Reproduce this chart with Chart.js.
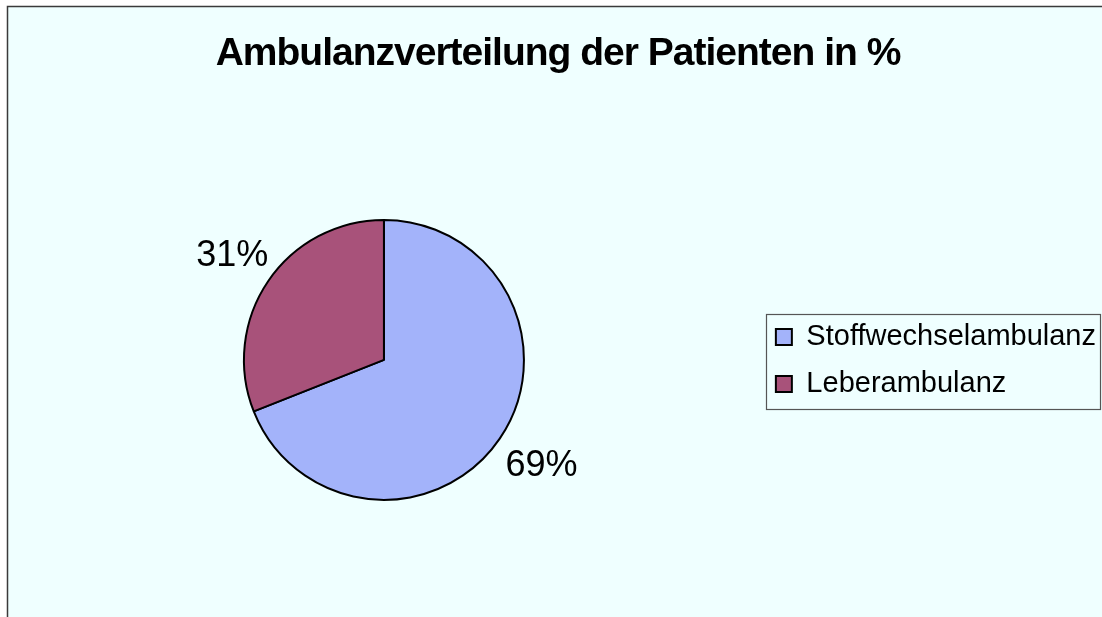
<!DOCTYPE html>
<html>
<head>
<meta charset="utf-8">
<script src="https://cdn.jsdelivr.net/npm/chart.js@4"></script>
<style>
html,body{margin:0;padding:0;background:#fff;}
#wrap{position:absolute;left:0;top:0;width:1102px;height:617px;}
</style>
</head>
<body>
<div id="wrap"><canvas id="c" width="1102" height="617"></canvas></div>
<script>
const chartTitle = "Ambulanzverteilung der Patienten in %";
const categories = ["Stoffwechselambulanz", "Leberambulanz"];
const values = [69, 31];
const sliceColors = ["#A3B3FA", "#A8527A"];

const FONT = '"Liberation Sans", Arial, sans-serif';

const bgPlugin = {
  id: 'bgPlugin',
  beforeDraw(chart) {
    const ctx = chart.ctx;
    ctx.save();
    ctx.fillStyle = '#ffffff';
    ctx.fillRect(0, 0, chart.width, chart.height);
    ctx.fillStyle = '#EFFFFF';
    ctx.fillRect(7, 6, chart.width - 7, chart.height - 6);
    ctx.strokeStyle = '#3a3a3a';
    ctx.lineWidth = 1.5;
    ctx.beginPath();
    ctx.moveTo(7.5, chart.height);
    ctx.lineTo(7.5, 6.5);
    ctx.lineTo(chart.width, 6.5);
    ctx.stroke();
    ctx.restore();
    // tighten title letter spacing like the original
    const t = chart.titleBlock;
    if (t && !t._wrapped) {
      const orig = t.draw.bind(t);
      t.draw = function (area) {
        chart.ctx.save();
        chart.ctx.letterSpacing = '-1px';
        orig(area);
        chart.ctx.restore();
      };
      t._wrapped = true;
    }
  }
};

const legendBoxPlugin = {
  id: 'legendBox',
  beforeDatasetsDraw(chart) {
    const lg = chart.legend;
    if (!lg || !lg.legendHitBoxes || !lg.legendHitBoxes.length) return;
    const hb = lg.legendHitBoxes;
    const first = hb[0], last = hb[hb.length - 1];
    const left = first.left - 10;
    const top = first.top - 9;
    const bottom = last.top + last.height + 10;
    const right = chart.width - 2;
    const ctx = chart.ctx;
    ctx.save();
    ctx.strokeStyle = '#555555';
    ctx.lineWidth = 1.2;
    ctx.strokeRect(Math.round(left) + 0.5, Math.round(top) + 0.5, Math.round(right - left), Math.round(bottom - top));
    ctx.restore();
  }
};

const labelPlugin = {
  id: 'pctLabels',
  afterDatasetsDraw(chart) {
    const meta = chart.getDatasetMeta(0);
    const data = chart.data.datasets[0].data;
    const total = data.reduce((a, b) => a + b, 0);
    const ctx = chart.ctx;
    ctx.save();
    ctx.font = '36px ' + FONT;
    ctx.fillStyle = '#000';
    ctx.textAlign = 'center';
    ctx.textBaseline = 'middle';
    meta.data.forEach((arc, i) => {
      const p = arc.getProps(['x', 'y', 'startAngle', 'endAngle', 'outerRadius'], true);
      const mid = (p.startAngle + p.endAngle) / 2;
      const d = p.outerRadius + 47;
      const x = p.x + Math.cos(mid) * d + 3;
      const y = p.y + Math.sin(mid) * d + 1;
      ctx.fillText(Math.round(data[i] / total * 100) + '%', x, y);
    });
    ctx.restore();
  }
};

new Chart(document.getElementById('c'), {
  type: 'pie',
  data: {
    labels: categories,
    datasets: [{
      data: values,
      backgroundColor: sliceColors,
      borderColor: '#000000',
      borderWidth: 2,
      radius: 140
    }]
  },
  options: {
    responsive: false,
    animation: false,
    events: [],
    layout: { padding: { left: 10, right: -4, top: 0, bottom: 0 } },
    plugins: {
      title: {
        display: true,
        text: chartTitle,
        color: '#000',
        font: { family: FONT, size: 39, weight: 'bold' },
        padding: { top: 31, bottom: 25 }
      },
      legend: {
        position: 'right',
        title: {
          display: true,
          text: '',
          font: { size: 10 },
          padding: { top: 46, bottom: 46 }
        },
        labels: {
          color: '#000',
          font: { family: FONT, size: 29 },
          boxWidth: 16,
          boxHeight: 16,
          padding: 18
        }
      },
      tooltip: { enabled: false }
    }
  },
  plugins: [bgPlugin, legendBoxPlugin, labelPlugin]
});
</script>
</body>
</html>
